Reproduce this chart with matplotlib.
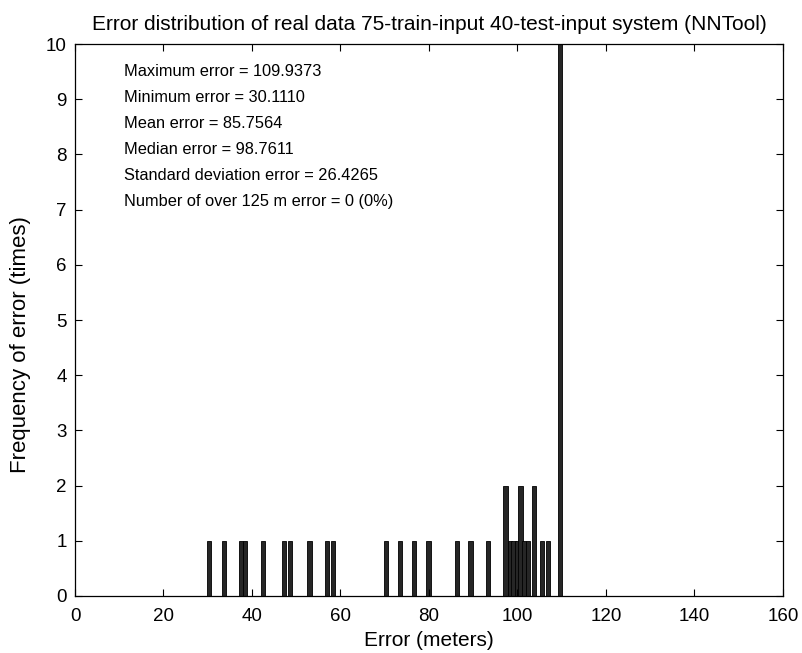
import matplotlib
matplotlib.use('Agg')
import matplotlib.pyplot as plt

# centros de las barras (error en metros) y frecuencia
centros = [30.3, 33.7, 37.6, 38.5, 42.5, 47.3, 48.6, 53.0, 57.0, 58.3,
           70.2, 73.4, 76.7, 79.9, 86.3, 89.4, 93.3,
           97.3, 98.3, 99.1, 99.9, 100.7, 101.5, 102.3, 103.7, 105.5, 106.9, 109.6]
frecuencias = [1, 1, 1, 1, 1, 1, 1, 1, 1, 1,
               1, 1, 1, 1, 1, 1, 1,
               2, 1, 1, 1, 2, 1, 1, 2, 1, 1, 11]

titulo = "Error distribution of real data 75-train-input 40-test-input system (NNTool)"
estadisticas = [
    "Maximum error = 109.9373",
    "Minimum error = 30.1110",
    "Mean error = 85.7564",
    "Median error = 98.7611",
    "Standard deviation error = 26.4265",
    "Number of over 125 m error = 0 (0%)",
]

plt.rcParams['font.family'] = ['Liberation Sans', 'DejaVu Sans']

fig = plt.figure(figsize=(8.03, 6.53), dpi=100)
ax = fig.add_axes([0.0934, 0.0873, 0.8816, 0.8453])

ax.bar(centros, frecuencias, width=0.95, color='#262626', edgecolor='black', linewidth=0.6)

ax.set_xlim(0, 160)
ax.set_ylim(0, 10)
ax.set_xticks(range(0, 161, 20))
ax.set_yticks(range(0, 11))
ax.tick_params(direction='in', top=True, right=True, length=5, labelsize=13.5, width=0.8)
ax.tick_params(axis='x', pad=9)
ax.tick_params(axis='y', pad=6)
for s in ax.spines.values():
    s.set_linewidth(0.9)

ax.set_title(titulo, fontsize=15, pad=10)
ax.set_xlabel("Error (meters)", fontsize=15, labelpad=4)
ax.set_ylabel("Frequency of error (times)", fontsize=16)
ax.yaxis.set_label_coords(-0.062, 0.455)

for i, linea in enumerate(estadisticas):
    ax.text(11, 9.5 - i * 0.47, linea, fontsize=11.8, va='center', ha='left')

fig.savefig("out.png", dpi=100)
